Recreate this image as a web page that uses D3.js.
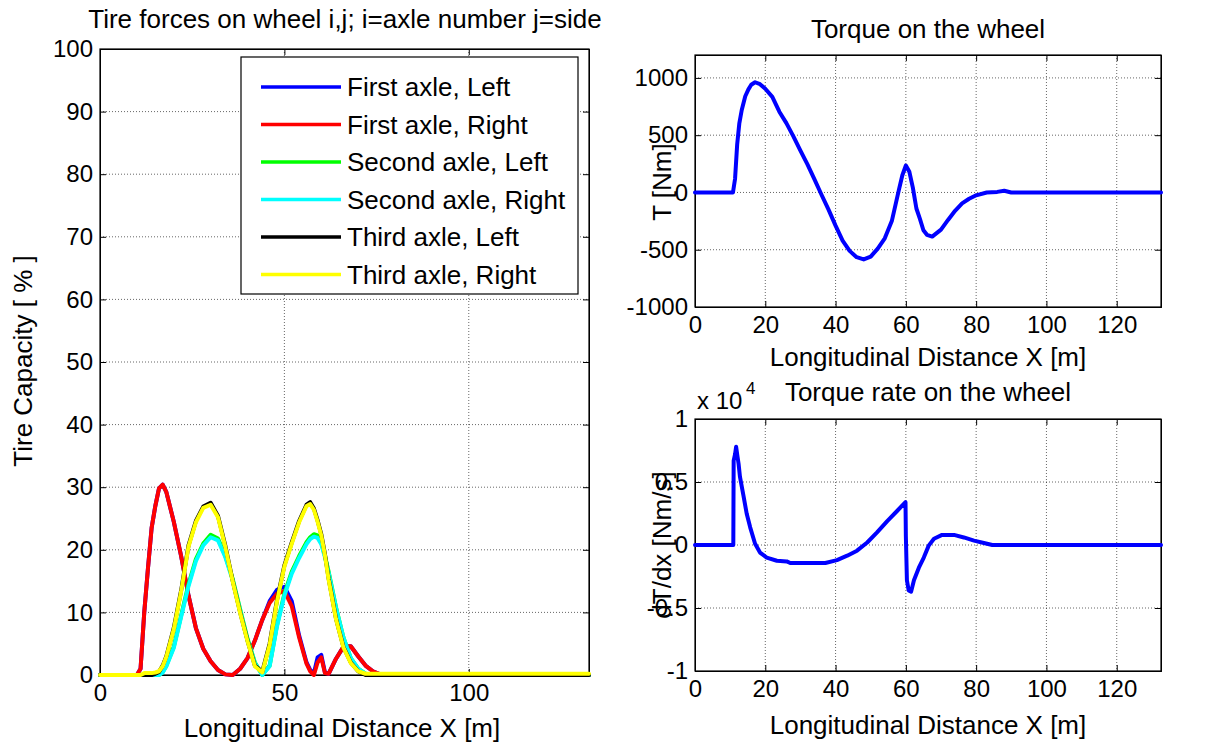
<!DOCTYPE html>
<html lang="en">
	<head>
		<meta charset="utf-8">
		<title>Tire forces and torque</title>
		<script type="text/javascript" src="https://d3js.org/d3.v7.min.js"></script>
		<style>
			body { margin:0; background:#fff; }
			svg text { font-family:"Liberation Sans", Arial, sans-serif; fill:#000; }
			.grid line { stroke:#000; stroke-opacity:0.6; stroke-dasharray:1,2; }
			.axis path, .axis line { stroke:#000; }
		</style>
	</head>
	<body>
		<svg id="fig"></svg>
		<script>

			// distance grid for the tire capacity curves [m]
			var tireX = [0,10,11,12,13,14,15,16,17,18,20,22,24,26,28,30,32,34,36,38,40,42,44,46,48,50,52,54,56,57,58,59,60,61,62,64,66,68,70,72,74,76,78,132.6];

			// tire capacity [%], one array per wheel
			var firstLeft   = [0,0,1,10,17,23.5,27,29.8,30.4,29.2,24.5,19,12.7,7.5,4.2,2.2,0.8,0.1,0,1,2.7,5.5,8.8,11.8,13.6,14.1,11.8,6.3,2,0.8,0.3,2.8,3.2,0.4,0.2,2.6,4.5,4.6,3,1.5,0.6,0.1,0,0];
			var firstRight  = [0,0,1,10,17,23.5,27,29.8,30.4,29.2,24.5,19,12.7,7.5,4.2,2.2,0.8,0.1,0,1,2.7,5.5,8.8,11.5,13,13.4,11,6,1.8,0.6,0,2,2.8,0.3,0.2,2.6,4.5,4.6,3,1.5,0.6,0.1,0,0];
			var secondLeft  = [0,0,0,0,0,0,0,0,0.5,1.5,4.5,9.5,14.5,18.5,21,22.4,21.8,19,15.3,10.5,5.8,2,0,1.5,8,13,16.5,19,21.2,22,22.5,22.3,21.2,19,16.5,10.8,6,2.7,1,0.2,0,0,0,0];
			var secondRight = [0,0,0,0,0,0,0,0,0.4,1.4,4.3,9.3,14.2,18.2,20.7,22,21.5,18.8,15.1,10.3,5.6,1.9,0,1.4,7.8,12.7,16.2,18.7,20.9,21.7,22.1,21.9,20.9,18.8,16.3,10.7,6,2.7,1,0.2,0,0,0,0];
			var thirdLeft   = [0,0,0,0,0,0,0.2,0.5,1.5,3,7.5,13.5,20.7,24.6,26.9,27.5,25.4,20.6,15,10,5.5,1.5,0.5,5,12,17.5,21.2,24.6,27.2,27.6,26.6,24.7,22.5,19.3,15.4,9,4.5,2,0.6,0,0,0,0,0];
			var thirdRight  = [0,0,0,0.3,0.3,0.3,0.4,0.6,1.4,2.9,7.3,13.3,20.5,24.4,26.7,27.2,25.2,20.4,14.9,9.9,5.4,1.4,0.4,4.8,11.8,17.3,21,24.4,27,27.3,26.4,24.5,22.3,19.1,15.2,8.9,4.4,1.9,0.6,0.2,0.2,0.2,0.2,0.2];

			var seriesNames  = ["First axle, Left","First axle, Right","Second axle, Left","Second axle, Right","Third axle, Left","Third axle, Right"];
			var seriesColors = ["#0000ff","#ff0000","#00ff00","#00ffff","#000000","#ffff00"];
			var seriesValues = [firstLeft,firstRight,secondLeft,secondRight,thirdLeft,thirdRight];

			// torque on the wheel [Nm]
			var torqueX = [0,10.8,11.4,12,12.6,13.3,14.3,15.2,16,17.1,18.5,20,22,24,26,28,30,32,34,36,38,40,42,44,46,48,50,52,54,56,58,59,60,61,62,63,64,65,66,67.5,70,72,74,76,78,80,83,86,88,90,132.6];
			var torque  = [0,0,120,420,600,720,840,900,940,962,945,905,835,705,605,490,365,245,115,-20,-150,-290,-420,-510,-565,-585,-560,-490,-400,-250,20,150,235,180,40,-140,-230,-330,-370,-385,-325,-240,-160,-95,-55,-25,0,5,15,0,0];

			// torque rate on the wheel [x 10^4 Nm/s]
			var rateX = [0,10.9,11.0,11.4,11.7,12.1,12.4,12.8,13.8,14.7,15.7,17.1,18.5,20.4,23.3,26.1,27.1,30,34,37.1,40.4,43.3,46.1,49,51.8,54.7,57.5,59.9,60.0,60.3,60.8,61.5,62.3,63.7,65.1,66.5,68,70.3,73.7,76.5,79.4,82.2,84.6,132.6];
			var rate  = [0,0,0.67,0.72,0.78,0.70,0.645,0.54,0.39,0.25,0.14,0.01,-0.06,-0.10,-0.125,-0.13,-0.143,-0.143,-0.143,-0.143,-0.12,-0.085,-0.045,0.02,0.10,0.19,0.27,0.34,0.07,-0.28,-0.36,-0.37,-0.28,-0.18,-0.10,-0.005,0.05,0.08,0.08,0.06,0.035,0.016,0,0];

			var leftXTicks  = [0,50,100];
			var leftYTicks  = [0,10,20,30,40,50,60,70,80,90,100];
			var rightXTicks = [0,20,40,60,80,100,120];
			var torqueTicks = [-1000,-500,0,500,1000];
			var rateTicks   = [-1,-0.5,0,0.5,1];

			var width=1208;
			var height=747;
			var tickFont = 24;
			var labelFont = 26;

			var svg = d3.select("#fig")
				.attr("width",width)
				.attr("height",height);

			// plain hyphen for negatives, like the original
			var fmt = d=>String(d);

			function makePanel(box,xDomain,yDomain,xTicks,yTicks){
				var xScale = d3.scaleLinear().domain(xDomain).range([box.left,box.right]);
				var yScale = d3.scaleLinear().domain(yDomain).range([box.bottom,box.top]);
				var g = svg.append("g");

				// dotted grid
				g.append("g").attr("class","grid")
					.selectAll("line")
					.data(xTicks.filter(d=>d>xDomain[0]&&d<xDomain[1]))
					.enter().append("line")
					.attr("x1",d=>xScale(d)).attr("x2",d=>xScale(d))
					.attr("y1",box.top).attr("y2",box.bottom);
				g.append("g").attr("class","grid")
					.selectAll("line")
					.data(yTicks.filter(d=>d>yDomain[0]&&d<yDomain[1]))
					.enter().append("line")
					.attr("x1",box.left).attr("x2",box.right)
					.attr("y1",d=>yScale(d)).attr("y2",d=>yScale(d));

				var xAxis = d3.axisBottom(xScale).tickValues(xTicks).tickSize(-6).tickPadding(9).tickFormat(fmt);
				var yAxis = d3.axisLeft(yScale).tickValues(yTicks).tickSize(-6).tickPadding(7).tickFormat(fmt);

				g.append("g").attr("class","x axis")
					.attr("transform","translate(0,"+box.bottom+")")
					.call(xAxis);
				g.append("g").attr("class","y axis")
					.attr("transform","translate("+box.left+",0)")
					.call(yAxis);
				// ticks on top and right, no labels
				g.append("g").attr("class","axis")
					.attr("transform","translate(0,"+box.top+")")
					.call(d3.axisTop(xScale).tickValues(xTicks).tickSize(-6).tickFormat(""));
				g.append("g").attr("class","axis")
					.attr("transform","translate("+box.right+",0)")
					.call(d3.axisRight(yScale).tickValues(yTicks).tickSize(-6).tickFormat(""));

				g.selectAll(".axis text")
					.style("font-size",tickFont+"px")
					.style("font-family","'Liberation Sans', Arial, sans-serif");

				g.append("rect")
					.attr("x",box.left).attr("y",box.top)
					.attr("width",box.right-box.left).attr("height",box.bottom-box.top)
					.attr("fill","none").attr("stroke","#000").attr("stroke-width",1.2);

				return {x:xScale,y:yScale,g:g,box:box};
			}

			function drawLine(panel,xs,ys,color,w){
				var line = d3.line()
					.x((d,i)=>panel.x(xs[i]))
					.y(d=>panel.y(d));
				panel.g.append("path")
					.datum(ys)
					.attr("d",line)
					.attr("fill","none")
					.attr("stroke",color)
					.attr("stroke-width",w)
					.attr("stroke-linejoin","round")
					.attr("stroke-linecap","round");
			}

			// left panel: tire capacity
			var left = makePanel({left:100,right:589,top:49,bottom:675},[0,132.6],[0,100],leftXTicks,leftYTicks);
			seriesValues.forEach(function(vals,k){
				drawLine(left,tireX,vals,seriesColors[k],4);
			});

			// legend
			var legend = svg.append("g").attr("transform","translate(241,57)");
			legend.append("rect")
				.attr("width",337).attr("height",237)
				.attr("fill","#fff").attr("stroke","#000").attr("stroke-width",1.2);
			var item = legend.selectAll("g.item")
				.data(seriesNames)
				.enter().append("g")
				.attr("transform",(d,i)=>"translate(0,"+(30+i*37.5)+")");
			item.append("line")
				.attr("x1",20).attr("x2",100)
				.attr("stroke",(d,i)=>seriesColors[i])
				.attr("stroke-width",3.5);
			item.append("text")
				.attr("x",106).attr("y",9)
				.style("font-size",labelFont+"px")
				.text(d=>d);

			// top right: torque
			var topRight = makePanel({left:695,right:1161,top:55,bottom:307},[0,132.6],[-1000,1200],rightXTicks,torqueTicks);
			drawLine(topRight,torqueX,torque,"#0000ff",4);

			// bottom right: torque rate
			var botRight = makePanel({left:695,right:1161,top:419,bottom:671},[0,132.6],[-1,1],rightXTicks,rateTicks);
			drawLine(botRight,rateX,rate,"#0000ff",4);

			// titles and labels
			function label(x,y,txt,size,rot){
				var t = svg.append("text")
					.attr("text-anchor","middle")
					.style("font-size",size+"px")
					.text(txt);
				if(rot){
					t.attr("transform","translate("+x+","+y+") rotate(-90)");
				}else{
					t.attr("x",x).attr("y",y);
				}
				return t;
			}

			label(345,28,"Tire forces on wheel i,j; i=axle number j=side",labelFont);
			label(342,737,"Longitudinal Distance X [m]",labelFont);
			label(32,361,"Tire Capacity [ % ]",labelFont,true);

			label(928,38,"Torque on the wheel",labelFont);
			label(928,366,"Longitudinal Distance X [m]",labelFont);
			label(671,182,"T [Nm]",labelFont,true);

			label(928,401,"Torque rate on the wheel",labelFont);
			label(928,734,"Longitudinal Distance X [m]",labelFont);
			label(671,545,"dT/dx [Nm/s]",labelFont,true);

			svg.append("text")
				.attr("x",697).attr("y",409)
				.style("font-size",tickFont+"px")
				.text("x 10");
			svg.append("text")
				.attr("x",746).attr("y",394)
				.style("font-size","17px")
				.text("4");
		</script>
	</body>
</html>
